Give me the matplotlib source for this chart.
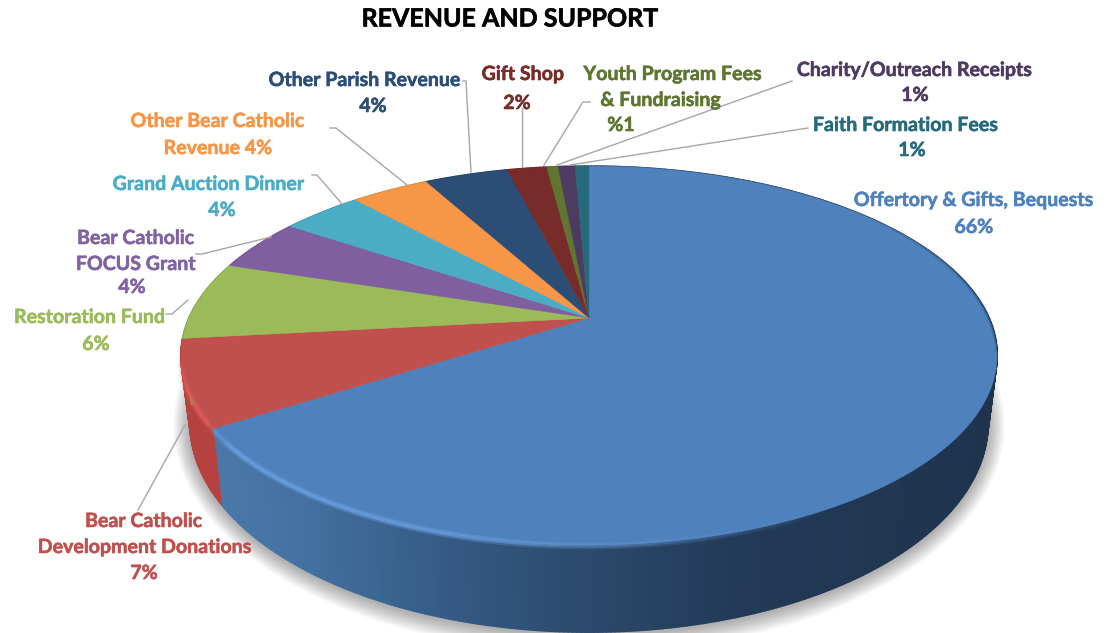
import numpy as np
import matplotlib
matplotlib.use('Agg')
import matplotlib.pyplot as plt
import matplotlib.patheffects as pe
from matplotlib.collections import PolyCollection, LineCollection
from matplotlib.colors import LinearSegmentedColormap, to_rgb

# slices clockwise from 12 o'clock, shares
categories = ['Offertory & Gifts, Bequests', 'Bear Catholic Development Donations',
              'Restoration Fund', 'Bear Catholic FOCUS Grant', 'Grand Auction Dinner',
              'Other Bear Catholic Revenue', 'Other Parish Revenue', 'Gift Shop',
              'Youth Program Fees & Fundraising', 'Charity/Outreach Receipts',
              'Faith Formation Fees']
shares = [65.9, 7.4, 6.7, 4.5, 3.9, 3.75, 4.0, 1.9, 0.55, 0.8, 0.67]
slice_colors = ['#4f81bd', '#c0504d', '#9bbb59', '#7f5f9f', '#4bacc6', '#f79646',
                '#2c4d75', '#772c2a', '#5f7530', '#4d3b62', '#276a7c']
wall_colors = ['#2c4d75', '#b5423f', '#86a24c', '#6c5088', '#4094aa', '#d5803c',
               '#263f61', '#662624', '#516428', '#423354', '#215b6b']

# (text, x, y, colour)
label_texts = [
    ('Offertory & Gifts, Bequests', 974, 200, '#4f81bd'), ('66%', 974, 227, '#4f81bd'),
    ('Bear Catholic', 144, 521, '#c0504d'), ('Development Donations', 145, 547, '#c0504d'),
    ('7%', 144, 573, '#c0504d'),
    ('Restoration Fund', 90, 317, '#9bbb59'), ('6%', 96, 344, '#9bbb59'),
    ('Bear Catholic', 136, 238, '#8064a2'), ('FOCUS Grant', 136, 264, '#8064a2'),
    ('4%', 132, 287, '#8064a2'),
    ('Grand Auction Dinner', 209, 184, '#4bacc6'), ('4%', 222, 210, '#4bacc6'),
    ('Other Bear Catholic', 218, 121, '#f79646'), ('Revenue 4%', 218, 148, '#f79646'),
    ('Other Parish Revenue', 365, 80, '#2c4d75'), ('4%', 373, 106, '#2c4d75'),
    ('Gift Shop', 523, 74, '#772c2a'), ('2%', 517, 103, '#772c2a'),
    ('Youth Program Fees', 673, 74, '#5f7530'), ('& Fundraising', 661, 100, '#5f7530'),
    ('%1', 621, 125, '#5f7530'),
    ('Charity/Outreach Receipts', 915, 70, '#4d3b62'), ('1%', 915, 95, '#4d3b62'),
    ('Faith Formation Fees', 906, 125, '#276a7c'), ('1%', 912, 150, '#276a7c'),
]

leader_lines = [
    [(138, 510), (185, 425)],
    [(166, 314), (172, 314), (188, 300)],
    [(196, 254), (202, 254), (271, 237)],
    [(312, 175), (317, 175), (342, 204)],
    [(330, 128), (336, 128), (407, 185)],
    [(463, 81), (466, 81), (471, 172)],
    [(522, 108), (522, 167)],
    [(590, 102), (583, 102), (544, 165)],
    [(792, 81), (557, 165)],
    [(808, 128), (570, 165)],
]

# projection of the tilted disc, in pixels of the image
CX = 589
TOP = dict(y0=318, a=182, c=400)
BOTTOM = dict(y0=382, a=200.6, c=391)
PERSP = 0.198


def project(theta, ring):
    # theta in degrees, clockwise from the far point of the disc
    t = np.radians(theta)
    u, w = np.sin(t), -np.cos(t)
    d = 1 - PERSP * w
    return CX + ring['c'] * u / d, ring['y0'] + ring['a'] * w / d


edges = np.concatenate([[0], np.cumsum(shares)]) / np.sum(shares) * 360

fig = plt.figure(figsize=(11.16, 6.33), dpi=100)
ax = fig.add_axes([0, 0, 1, 1])
ax.set_xlim(0, 1116)
ax.set_ylim(633, 0)
ax.axis('off')

# soft shadow under the disc
all_theta = np.linspace(0, 360, 361)
bx, by = project(all_theta, BOTTOM)
ex, ey = (bx - CX), (by - 430)
for k in range(14, 0, -1):
    ax.fill(CX + ex * (1 + k / 330), 432 + ey * (1 + k / 150), color='black',
            alpha=0.024, lw=0, zorder=1)

# side wall, small quads so the shading can change along the rim
wall_map = LinearSegmentedColormap.from_list(
    'wall', [(0, '#4a78a9'), (0.12, '#42709f'), (0.3, '#355a85'), (0.5, '#2b4769'),
             (0.68, '#223a57'), (1, '#1f334d')])
for i in range(len(shares)):
    n = max(int((edges[i + 1] - edges[i]) / 0.5), 2)
    th = np.linspace(edges[i], edges[i + 1], n)
    tx, ty = project(th, TOP)
    ux, uy = project(th, BOTTOM)
    polys, cols = [], []
    for j in range(n - 1):
        polys.append([(tx[j], ty[j]), (tx[j + 1], ty[j + 1]), (ux[j + 1], uy[j + 1]), (ux[j], uy[j])])
        if i == 0:
            cols.append(wall_map((tx[j] - 215) / 780))
        else:
            cols.append(to_rgb(wall_colors[i]))
    order = np.argsort([p[0][1] for p in polys])
    ax.add_collection(PolyCollection([polys[o] for o in order],
                                     facecolors=[cols[o] for o in order],
                                     edgecolors=[cols[o] for o in order],
                                     linewidths=1.2, zorder=2))

# top face
for i in range(len(shares)):
    th = np.linspace(edges[i], edges[i + 1], max(int(edges[i + 1] - edges[i]) * 2, 6))
    tx, ty = project(th, TOP)
    ax.fill(np.r_[CX, tx], np.r_[TOP['y0'], ty], color=slice_colors[i], lw=0.3,
            ec=slice_colors[i], zorder=3)


def rim_glow(th0, th1, color, peak, width, hold=0.4):
    # strongest near th0 for a fraction of the arc, then fading away
    th = np.linspace(th0, th1, 200)
    x, y = project(th, TOP)
    pts = np.column_stack([x, y + width * 0.2])
    segs = np.stack([pts[:-1], pts[1:]], axis=1)
    s = np.linspace(0, 1, len(segs))
    a = peak * np.clip((1 - s) / (1 - hold), 0, 1) * np.clip(s / 0.06, 0.6, 1)
    rgb = to_rgb(color)
    for lw, f in [(width, 0.3), (width * 0.45, 0.55)]:
        ax.add_collection(LineCollection(segs, colors=[(*rgb, v * f) for v in a],
                                         linewidths=lw, capstyle='butt', zorder=4))


# bevel highlight on the left of the rim, dark edge on the right
rim_glow(edges[1], 150, '#74aef2', 1.0, 5, hold=0.45)
rim_glow(edges[1], edges[2] - 4, '#ec6a64', 1.0, 5, hold=0.5)
rim_glow(100, 52, '#12233a', 0.55, 2.5, hold=0.2)

for pts in leader_lines:
    xs, ys = zip(*pts)
    ax.plot(xs, ys, color='#a6a6a6', lw=1.0, zorder=5, solid_joinstyle='round')

ax.text(510, 19, 'REVENUE AND SUPPORT', ha='center', va='center', fontsize=18,
        fontweight='bold', family='Lato', color='black', zorder=6,
        path_effects=[pe.withStroke(linewidth=0.4, foreground='black')])
for txt, x, y, col in label_texts:
    ax.text(x, y, txt, ha='center', va='center', fontsize=14.1, fontweight='bold',
            family='Lato', color=col, zorder=6,
            path_effects=[pe.withStroke(linewidth=0.4, foreground=col)])

fig.savefig('out.png', dpi=100, facecolor='white')
